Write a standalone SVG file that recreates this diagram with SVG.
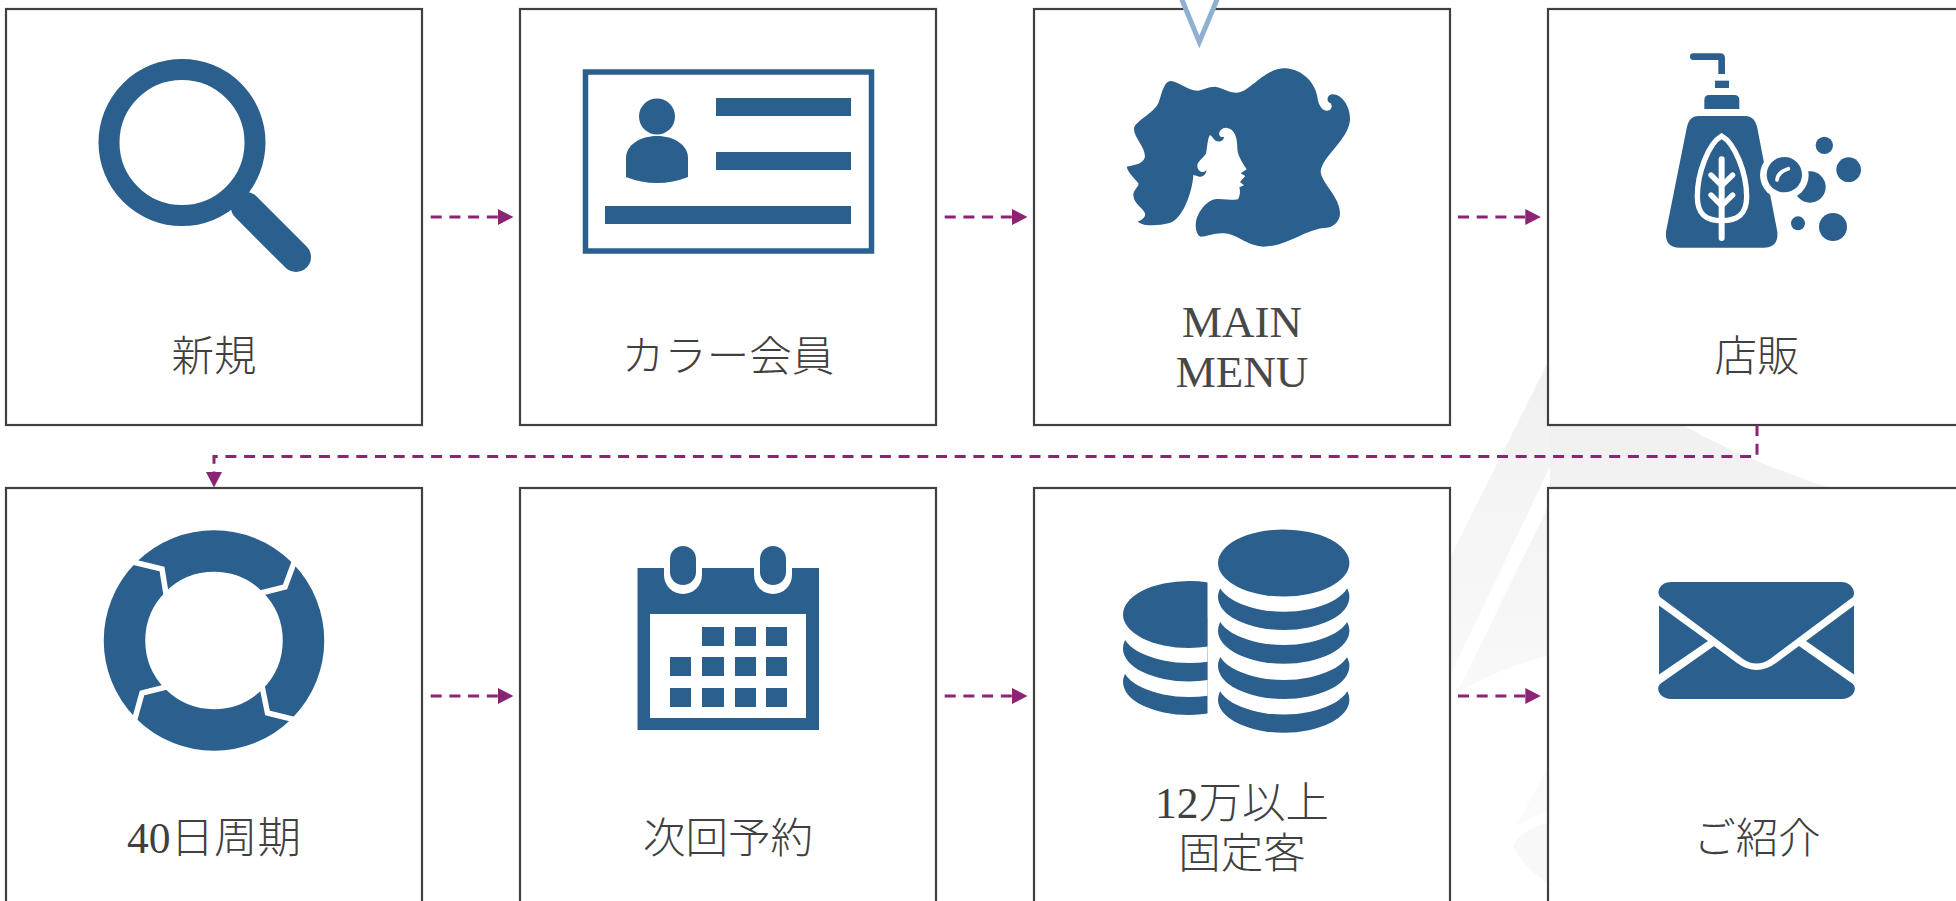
<svg xmlns="http://www.w3.org/2000/svg" width="1956" height="901" viewBox="0 0 1956 901">
<style>
.box{fill:#fff;stroke:#404040;stroke-width:2.2}
.t{font-family:"Liberation Serif","Noto Sans CJK JP",serif;font-size:42.5px;font-weight:300;fill:#404040;text-anchor:middle}
.n{font-size:43.5px}
.m{font-size:45px;fill:#484848}
.b{fill:#2b5f8d}
.w{fill:#fff}
.ws{fill:none;stroke:#fff;stroke-linejoin:miter}
.c{fill:none;stroke:#8b2472;stroke-width:3;stroke-dasharray:11 7.7}
</style>
<defs>
<marker id="ah" markerUnits="userSpaceOnUse" markerWidth="16" markerHeight="16" refX="0" refY="8" orient="auto"><path d="M0,0L15.5,8L0,16Z" fill="#8b2472"/></marker>
<linearGradient id="wm" x1="0" y1="0" x2="0" y2="1"><stop offset="0" stop-color="#f0f0f0"/><stop offset="1" stop-color="#f9f9f9"/></linearGradient>
<clipPath id="lc"><rect x="1100" y="560" width="107.500" height="170"/></clipPath>
</defs>
<rect width="1956" height="901" fill="#fff"/>
<g id="watermark">
<path d="M1550,358L1451,556L1451,674L1570,425L1570,358Z" fill="url(#wm)"/>
<path d="M1588,425L1457,693Q1500,668 1550,655L1550,420L1683,425Q1740,458 1830,488L1550,490Z" fill="url(#wm)"/>
<path d="M1550,763L1516,826L1550,810Z" fill="#fbfbfb"/>
<path d="M1550,822Q1520,830 1513,846Q1525,870 1550,884Z" fill="#f8f8f8"/>
</g>
<g id="node-new">
<rect class="box" x="6" y="9" width="416" height="416"/>
<line x1="246" y1="207" x2="296" y2="257" stroke="#2b5f8d" stroke-width="30" stroke-linecap="round"/>
<circle cx="182" cy="142.500" r="73" fill="#fff" stroke="#2b5f8d" stroke-width="21"/>
<text class="t" x="214" y="371">新規</text>
</g>
<g id="node-color-member">
<rect class="box" x="520" y="9" width="416" height="416"/>
<rect x="585.500" y="72" width="286" height="179" fill="none" stroke="#2b5f8d" stroke-width="5.500"/>
<rect class="b" x="716" y="98" width="135" height="18"/>
<rect class="b" x="716" y="152" width="135" height="18"/>
<rect class="b" x="605" y="206" width="246" height="18"/>
<circle class="b" cx="657" cy="116.500" r="18"/>
<path class="b" d="M626,177V158C626,145 640,136 657,136C674,136 688,145 688,158V177Q673,183 657,183Q641,183 626,177Z"/>
<text class="t" x="728" y="371">カラー会員</text>
</g>
<g id="node-main-menu">
<rect class="box" x="1034" y="9" width="416" height="416"/>
<path d="M1178,-10L1199.300,42L1221,-10Z" fill="#fff" stroke="#8fb0d0" stroke-width="5"/>
<path class="b" transform="translate(1100 40) scale(.33333)" d="M113,545C125,540 138,532 135,520C130,505 100,490 100,465C100,450 118,440 115,430C105,415 85,400 80,380C95,375 130,375 135,350C135,320 100,290 102,265C105,245 160,220 175,190C185,165 190,125 212,123C235,125 265,152 292,152C310,150 325,140 345,140C365,142 385,158 410,158C450,158 490,85 555,85C610,88 645,130 652,170C655,195 665,212 682,212C695,212 698,198 692,190C680,188 678,168 695,163C725,160 752,200 750,240C745,300 665,350 662,395C665,430 720,470 720,520C720,545 700,562 680,563C620,565 560,620 490,620C440,618 410,580 370,580C345,578 320,590 302,590C290,585 285,565 288,545C295,510 325,478 350,477C370,475 400,482 414,478C422,465 420,450 418,442L432,436L420,426L436,408L422,400L440,388C425,365 412,345 412,325C412,295 405,265 378,263C365,263 355,275 358,285C360,292 368,292 372,290C372,300 362,306 352,304C342,302 338,290 330,285C322,295 322,325 318,340C312,355 292,362 292,378C292,388 300,396 308,396C314,396 318,392 320,390C318,402 310,412 298,410C292,409 285,405 280,405C278,450 250,540 205,550C180,556 135,562 113,545Z"/>
<text class="t m" x="1242" y="337">MAIN</text>
<text class="t m" x="1242" y="387">MENU</text>
</g>
<g id="node-retail">
<rect class="box" x="1548" y="9" width="416" height="416"/>
<g transform="translate(1640 40) scale(.33333)">
<path class="b" d="M160,40H240Q255,40 255,55V102H235V60H160Q150,60 150,50Q150,40 160,40Z"/>
<rect class="b" x="225" y="122" width="42" height="22"/>
<path class="b" d="M193,207V180Q193,165 208,165H283Q298,165 298,180V207Z"/>
<path class="b" d="M175,228H315Q345,228 352,265L412,575Q416,623 370,623H120Q74,623 78,575L140,265Q147,228 175,228Z"/>
<path d="M245,288C285,310 320,400 320,470C320,525 290,542 245,542C200,542 172,525 172,470C172,400 205,310 245,288Z" fill="none" stroke="#fff" stroke-width="16"/>
<line x1="245" y1="358" x2="245" y2="594" stroke="#fff" stroke-width="18" stroke-linecap="round"/>
<path d="M213,405L245,437L278,405M213,465L245,497L278,465" fill="none" stroke="#fff" stroke-width="16" stroke-linecap="round"/>
<circle class="b" cx="510" cy="441" r="47"/>
<circle class="w" cx="433" cy="405" r="73"/>
<circle class="b" cx="433" cy="404" r="53"/>
<path d="M411,420Q413,396 445,386" fill="none" stroke="#fff" stroke-width="11" stroke-linecap="round"/>
<circle class="b" cx="553" cy="316" r="26"/>
<circle class="b" cx="626" cy="389" r="37"/>
<circle class="b" cx="474" cy="550" r="21"/>
<circle class="b" cx="579" cy="561" r="42"/>
</g>
<text class="t" x="1757" y="371">店販</text>
</g>
<g id="node-40-days">
<rect class="box" x="6" y="488" width="416" height="416"/>
<circle cx="214" cy="640.500" r="89.500" fill="none" stroke="#2b5f8d" stroke-width="41.500"/>
<g class="ws" stroke-width="5.500">
<path d="M133,562L162,569L167,600"/>
<path d="M295,560L285,587L257,594"/>
<path d="M261,681L267.500,713L296,720"/>
<path d="M170,686L142,693L134,722"/>
</g>
<text class="t n" x="214" y="853">40日周期</text>
</g>
<g id="node-next-booking">
<rect class="box" x="520" y="488" width="416" height="416"/>
<rect class="b" x="637.500" y="568" width="181.500" height="162"/>
<rect class="w" x="650" y="614" width="156" height="104"/>
<path class="w" d="M664,566V575A19,19 0 0 0 702,575V566Z"/>
<path class="w" d="M754,566V575A19,19 0 0 0 792,575V566Z"/>
<rect class="b" x="670" y="546" width="26" height="39" rx="13"/>
<rect class="b" x="760" y="546" width="26" height="39" rx="13"/>
<g class="b">
<rect x="702" y="627" width="22" height="19"/><rect x="735" y="627" width="21" height="19"/><rect x="766" y="627" width="21" height="19"/>
<rect x="670" y="657" width="21" height="19"/><rect x="702" y="657" width="22" height="19"/><rect x="735" y="657" width="21" height="19"/><rect x="766" y="657" width="21" height="19"/>
<rect x="670" y="688" width="21" height="19"/><rect x="702" y="688" width="22" height="19"/><rect x="735" y="688" width="21" height="19"/><rect x="766" y="688" width="21" height="19"/>
</g>
<text class="t" x="728" y="853">次回予約</text>
</g>
<g id="node-fixed-customers">
<rect class="box" x="1034" y="488" width="416" height="416"/>
<g clip-path="url(#lc)">
<ellipse class="b" cx="1189" cy="682" rx="66" ry="33"/>
<ellipse class="w" cx="1189" cy="664" rx="67" ry="33"/>
<ellipse class="b" cx="1189" cy="648.500" rx="66" ry="33"/>
<ellipse class="w" cx="1189" cy="630" rx="67" ry="33"/>
<ellipse class="b" cx="1189" cy="614.500" rx="66" ry="33.500"/>
</g>
<ellipse class="b" cx="1283.700" cy="699.700" rx="65.700" ry="33"/>
<ellipse class="w" cx="1283.700" cy="681.500" rx="66.500" ry="33"/>
<ellipse class="b" cx="1283.700" cy="666" rx="65.700" ry="33"/>
<ellipse class="w" cx="1283.700" cy="647" rx="66.500" ry="33"/>
<ellipse class="b" cx="1283.700" cy="630.700" rx="65.700" ry="33"/>
<ellipse class="w" cx="1283.700" cy="612" rx="66.500" ry="33"/>
<ellipse class="b" cx="1283.700" cy="597" rx="65.700" ry="33"/>
<ellipse class="w" cx="1283.700" cy="578.700" rx="66.500" ry="33"/>
<ellipse class="b" cx="1283.700" cy="563" rx="65.700" ry="33.500"/>
<text class="t n" x="1242" y="818">12万以上</text>
<text class="t" x="1242" y="868">固定客</text>
</g>
<g id="node-referral">
<rect class="box" x="1548" y="488" width="416" height="416"/>
<path class="b" d="M1672,582H1841C1852,582 1856,592 1853,597L1770,659Q1756.500,668 1743,659L1660,597C1656,591 1660,582 1672,582Z"/>
<path class="b" d="M1659,605.500L1708,641L1659,674.500Z"/>
<path class="b" d="M1854,605.500L1806,641L1854,674.500Z"/>
<path class="b" d="M1714,646L1737,663Q1756.500,677 1776,663L1799,646L1853,684C1858,690 1852,699 1842,699H1671C1661,699 1655,690 1660,684Z"/>
<text class="t" x="1757" y="853">ご紹介</text>
</g>
<g id="connectors">
<line class="c" x1="430.700" y1="217" x2="498" y2="217" marker-end="url(#ah)"/>
<line class="c" x1="944.700" y1="217" x2="1012" y2="217" marker-end="url(#ah)"/>
<line class="c" x1="1458" y1="217" x2="1525.300" y2="217" marker-end="url(#ah)"/>
<path class="c" d="M1757,425V456.500H214V472" marker-end="url(#ah)"/>
<line class="c" x1="430.700" y1="696" x2="498" y2="696" marker-end="url(#ah)"/>
<line class="c" x1="944.700" y1="696" x2="1012" y2="696" marker-end="url(#ah)"/>
<line class="c" x1="1458" y1="696" x2="1525.300" y2="696" marker-end="url(#ah)"/>
</g>
</svg>
